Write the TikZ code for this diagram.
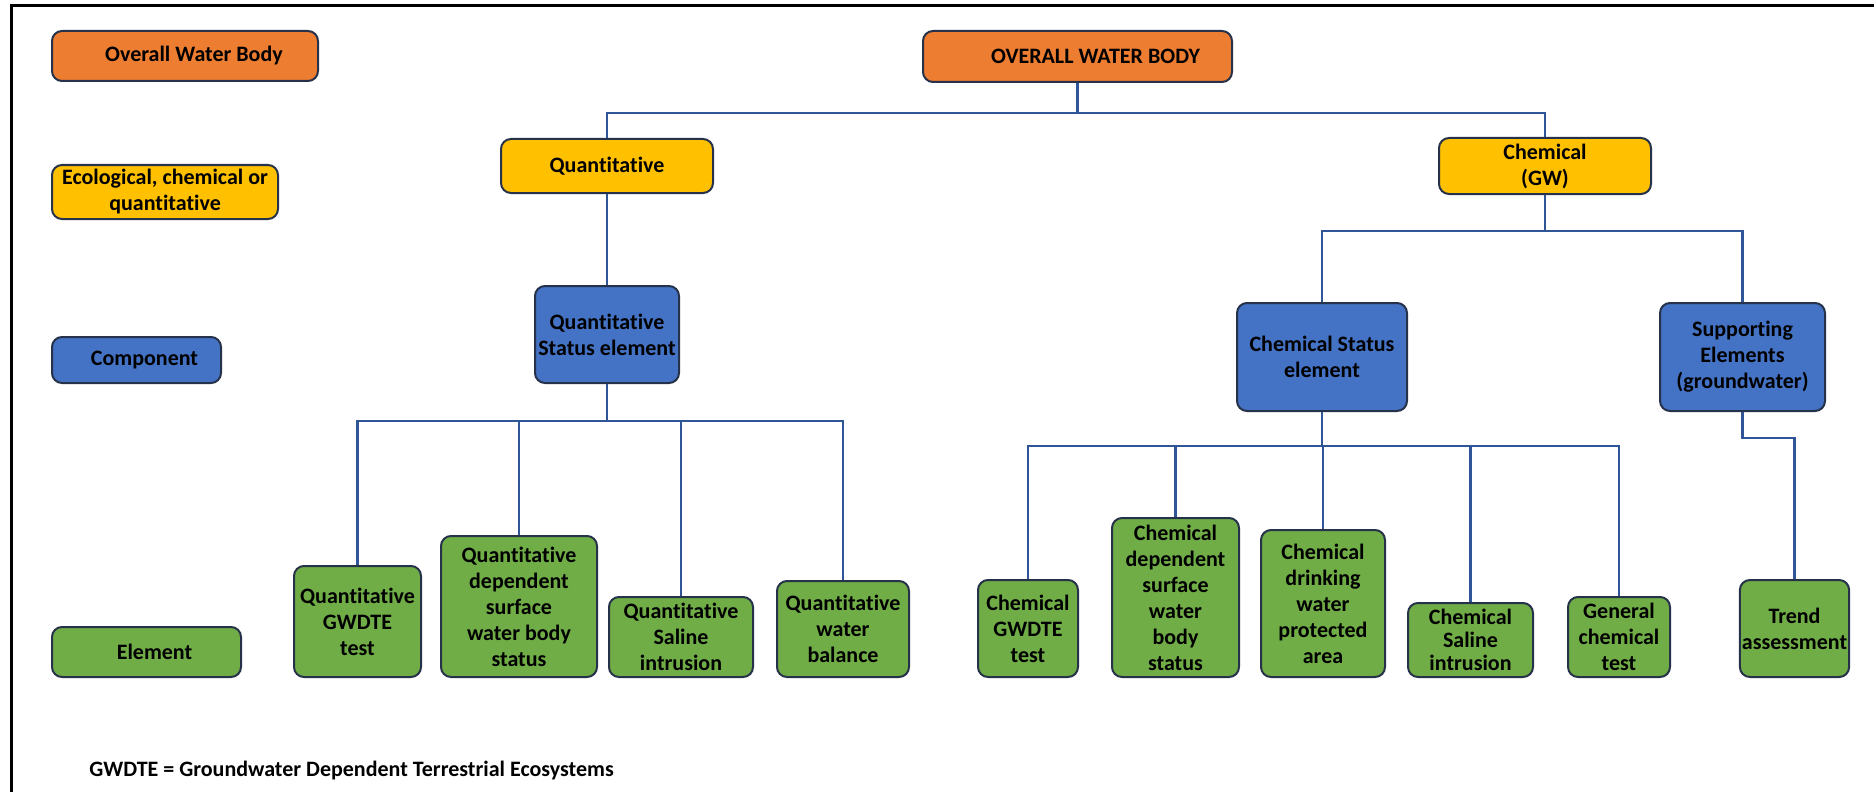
\documentclass[tikz,border=0pt]{standalone}
\usepackage{fontspec}
\setmainfont{Carlito}[Ligatures=NoCommon]
\definecolor{cOr}{HTML}{ED7D31}
\definecolor{cYe}{HTML}{FFC000}
\definecolor{cBl}{HTML}{4472C4}
\definecolor{cGr}{HTML}{70AD47}
\definecolor{cLine}{HTML}{2F5597}
\definecolor{cEdge}{HTML}{26324A}
\tikzset{
  box/.style={rounded corners=5pt, draw=cEdge, line width=1pt, align=center, inner sep=1pt,
    font=\bfseries\fontsize{11}{13}\selectfont},
  orbox/.style={box, fill=cOr},
  yebox/.style={box, fill=cYe},
  blbox/.style={box, fill=cBl},
  grbox/.style={box, fill=cGr},
  conn/.style={draw=cLine, line width=1.1pt},
}
\newcommand\bx[7]{\node[#6, minimum width={(#4-#2)*0.5pt}, minimum height={(#5-#3)*0.5pt}] (#1) at ({(#2+#4)/2},{(#3+#5)/2}) {#7};}
\begin{document}
\begin{tikzpicture}[x=0.5pt,y=-0.5pt]
\useasboundingbox (0,0) rectangle (1874,792);
\draw[line width=1.5pt] (11,792) -- (11,6) -- (1874,6);
% legend
\bx{leg1}{52}{31}{318}{81}{orbox}{\hspace*{9pt}Overall Water Body}
\bx{leg2}{52}{165}{278}{219}{yebox}{Ecological, chemical or\\quantitative}
\bx{leg3}{52}{337}{221}{383}{blbox}{\hspace*{8pt}Component}
\bx{leg4}{52}{627}{241}{677}{grbox}{\hspace*{8pt}Element}
% tree
\bx{owb}{923}{31}{1232}{82}{orbox}{\hspace*{18pt}OVERALL WATER BODY}
\bx{quant}{501}{139}{713}{193}{yebox}{Quantitative}
\bx{chem}{1439}{138}{1651}{194}{yebox}{Chemical\\(GW)}
\bx{qse}{535}{286}{679}{383}{blbox}{Quantitative\\Status element}
\bx{cse}{1237}{303}{1407}{411}{blbox}{Chemical Status\\element}
\bx{se}{1660}{303}{1825}{411}{blbox}{Supporting\\Elements\\(groundwater)}
\bx{ea}{294}{566}{421}{677}{grbox}{Quantitative\\GWDTE\\test}
\bx{eb}{441}{536}{597}{677}{grbox}{Quantitative\\dependent\\surface\\water body\\status}
\bx{ec}{609}{597}{753}{677}{grbox}{Quantitative\\Saline\\intrusion}
\bx{ed}{777}{581}{909}{677}{grbox}{Quantitative\\water\\balance}
\bx{ee}{978}{580}{1078}{677}{grbox}{Chemical\\GWDTE\\test}
\bx{ef}{1112}{518}{1239}{677}{grbox}{Chemical\\dependent\\surface\\water\\body\\status}
\bx{eg}{1261}{530}{1385}{677}{grbox}{Chemical\\drinking\\water\\protected\\area}
\bx{eh}{1408}{603}{1533}{677}{grbox,inner sep=0pt,font=\bfseries\fontsize{11}{11.5}\selectfont}{Chemical\\Saline\\intrusion}
\bx{ei}{1568}{597}{1670}{677}{grbox}{General\\chemical\\test}
\bx{ej}{1740}{580}{1849}{677}{grbox}{Trend\\assessment}
% bus levels
\coordinate (b1) at (0,113);
\coordinate (b2) at (0,231);
\coordinate (b3) at (0,421);
\coordinate (b4) at (0,446);
\coordinate (b5) at (0,438);
% connectors
\draw[conn] (owb.south) -- (owb.south |- b1);
\draw[conn] (quant.north) |- (owb.south |- b1) -| (chem.north);
\draw[conn] (quant.south) -- (qse.north);
\draw[conn] (chem.south) -- (chem.south |- b2);
\draw[conn] (cse.north) |- (chem.south |- b2) -| (se.north);
\draw[conn] (qse.south) -- (qse.south |- b3);
\draw[conn] (ea.north) |- (qse.south |- b3) -| (ed.north);
\draw[conn] (eb.north) -- (eb.north |- b3);
\draw[conn] (ec.north) -- (ec.north |- b3);
\draw[conn] (cse.south) -- (cse.south |- b4);
\draw[conn] (ee.north) |- (cse.south |- b4) -| (ei.north);
\draw[conn] (ef.north) -- (ef.north |- b4);
\draw[conn] (eg.north) -- (eg.north |- b4);
\draw[conn] (eh.north) -- (eh.north |- b4);
\draw[conn] (se.south) -- (se.south |- b5) -| (ej.north);
% footnote
\node[anchor=west, inner sep=0pt, font=\bfseries\fontsize{11}{13}\selectfont] (foot) at (89,771) {GWDTE = Groundwater Dependent Terrestrial Ecosystems};
\end{tikzpicture}
\end{document}
